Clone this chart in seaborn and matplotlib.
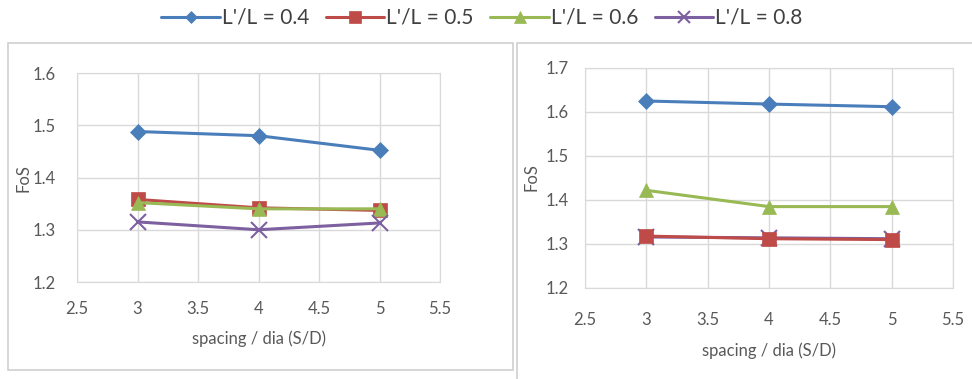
import pandas as pd
import matplotlib.pyplot as plt
import seaborn as sb
from matplotlib.patches import Rectangle

spacing = [3, 4, 5]
ratios = ["L'/L = 0.4", "L'/L = 0.5", "L'/L = 0.6", "L'/L = 0.8"]

# left chart
left_04 = [1.488, 1.480, 1.452]
left_05 = [1.358, 1.342, 1.337]
left_06 = [1.352, 1.340, 1.340]
left_08 = [1.315, 1.300, 1.313]

# right chart
right_04 = [1.625, 1.618, 1.612]
right_05 = [1.318, 1.312, 1.310]
right_06 = [1.422, 1.385, 1.385]
right_08 = [1.316, 1.314, 1.312]

colors = ["#4a7ebb", "#be4b48", "#98b954", "#7d60a0"]
markers = ["D", "s", "^", "x"]
sizes = [8, 10, 10, 11]


def make_frame(series):
    rows = []
    for name, vals in zip(ratios, series):
        for s, v in zip(spacing, vals):
            rows.append({"S/D": s, "FoS": v, "ratio": name})
    return pd.DataFrame(rows)


left_df = make_frame([left_04, left_05, left_06, left_08])
right_df = make_frame([right_04, right_05, right_06, right_08])

sb.set_style("white")
plt.rcParams['font.family'] = ['Lato', 'DejaVu Sans']
txt = "#595959"

fig = plt.figure(figsize=(9.72, 3.79), dpi=100)

# panel frames
fig.patches.append(Rectangle((8 / 972, 1 - 370 / 379), 505 / 972, 327 / 379, transform=fig.transFigure,
                             fill=False, edgecolor="#d0d0d0", linewidth=1.2))
fig.patches.append(Rectangle((517 / 972, -0.01), 460 / 972, 1 - 43 / 379 + 0.01, transform=fig.transFigure,
                             fill=False, edgecolor="#d0d0d0", linewidth=1.2))

ax1 = fig.add_axes([77 / 972, 1 - 282 / 379, 363 / 972, 209 / 379])
ax2 = fig.add_axes([585 / 972, 1 - 288 / 379, 368 / 972, 220 / 379])


def draw(ax, df, ylim, yticks, order, ypad, xpad, lpad):
    for i in order:
        name = ratios[i]
        sub = df[df["ratio"] == name]
        sb.lineplot(data=sub, x="S/D", y="FoS", ax=ax, color=colors[i], marker=markers[i],
                    markersize=sizes[i], markeredgewidth=1.5 if markers[i] == "x" else 0.5,
                    markeredgecolor=colors[i], linewidth=2.2, label=name, legend=False)
    ax.set_xlim(2.5, 5.5)
    ax.set_ylim(*ylim)
    ax.set_xticks([2.5, 3, 3.5, 4, 4.5, 5, 5.5])
    ax.set_xticklabels(["2.5", "3", "3.5", "4", "4.5", "5", "5.5"])
    ax.set_yticks(yticks)
    ax.grid(True, color="#d9d9d9", linewidth=1)
    for sp in ax.spines.values():
        sp.set_color("#d9d9d9")
    ax.tick_params(colors=txt, labelsize=12, length=0)
    ax.tick_params(axis="y", pad=ypad)
    ax.tick_params(axis="x", pad=xpad)
    ax.set_xlabel("spacing / dia (S/D)", color=txt, fontsize=12, labelpad=lpad)
    ax.set_ylabel("")


draw(ax1, left_df, (1.2, 1.6), [1.2, 1.3, 1.4, 1.5, 1.6], [0, 1, 2, 3], 15, 14, 9)
draw(ax2, right_df, (1.2, 1.7), [1.2, 1.3, 1.4, 1.5, 1.6, 1.7], [0, 2, 3, 1], 12, 17, 11)

fig.text(24 / 972, 1 - 178 / 379, "FoS", rotation=90, color=txt, fontsize=12, ha="center", va="center")
fig.text(532 / 972, 1 - 177 / 379, "FoS", rotation=90, color=txt, fontsize=12, ha="center", va="center")

handles = [ax1.get_lines()[i] for i in range(4)]
fig.legend(handles, ratios, loc="center", bbox_to_anchor=(482 / 972, 1 - 18 / 379), ncol=4, frameon=False,
           fontsize=15, handlelength=2.8, handletextpad=0.1, columnspacing=0.8, labelcolor="#404040",
           markerscale=0.8)

fig.savefig("out.png", dpi=100)
